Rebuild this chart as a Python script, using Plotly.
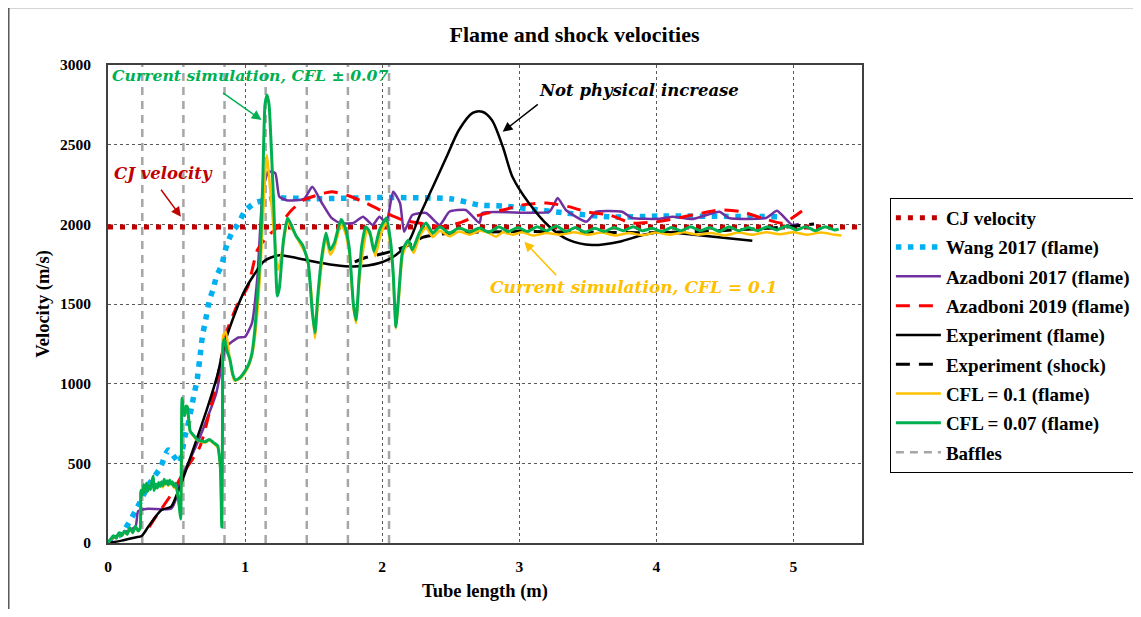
import plotly.graph_objects as go

# ---------------- data ----------------
cj_x = [0, 5.5]
cj_y = [1983, 1983]

wang_x = [0, 0.1, 0.2, 0.3, 0.38, 0.44, 0.49, 0.52, 0.56, 0.58, 0.61, 0.63, 0.65, 0.67, 0.69, 0.71,
          0.74, 0.77, 0.79, 0.83, 0.85, 0.875, 0.91, 0.94, 1.0, 1.07, 1.23, 1.5, 2.0, 2.5, 2.71,
          2.88, 3.34, 3.68, 4.02, 4.5, 4.89]
wang_y = [0, 60, 200, 370, 470, 584, 533, 502, 665, 728, 855, 941, 1023, 1161, 1305, 1389,
          1525, 1600, 1671, 1745, 1820, 1890, 1958, 1990, 2083, 2134, 2165, 2160, 2168, 2160, 2121,
          2115, 2071, 2046, 2052, 2050, 2048]

az17_x = [0, 0.05, 0.2, 0.22, 0.29, 0.46, 0.5, 0.52, 0.55, 0.67, 0.79, 0.86, 0.9, 0.95, 1.0, 1.05,
          1.09, 1.13, 1.17, 1.22, 1.25, 1.31, 1.43, 1.49, 1.56, 1.63, 1.69, 1.79, 1.86, 1.93, 1.98,
          2.03, 2.08, 2.13, 2.16, 2.22, 2.32, 2.42, 2.49, 2.61, 2.71, 2.73, 3.22, 3.28, 3.34, 3.49,
          3.56, 3.75, 3.82, 4.02, 4.12, 4.26, 4.46, 4.53, 4.8, 4.88, 4.99, 5.04]
az17_y = [0, 40, 102, 200, 215, 215, 290, 395, 440, 665, 941, 1232, 1260, 1290, 1295, 1380,
          1671, 2215, 2330, 2322, 2173, 2150, 2160, 2236, 2134, 2040, 2008, 2008, 2048, 1996, 2048,
          2008, 2205, 2134, 1954, 2058, 2071, 1996, 2079, 2090, 2008, 2071, 2079, 2165, 2090, 2017,
          2079, 2079, 2040, 2035, 2048, 2033, 2079, 2040, 2040, 2085, 1996, 2002]

az19_x = [0.3, 0.35, 0.45, 0.55, 0.67, 0.79, 0.87, 0.95, 1.02, 1.09, 1.16, 1.24, 1.34, 1.43, 1.53,
          1.63, 1.74, 1.88, 2.03, 2.15, 2.27, 2.42, 2.56, 2.71, 2.88, 3.02, 3.2, 3.36, 3.49, 3.66,
          3.82, 4.05, 4.26, 4.46, 4.62, 4.77, 4.92, 5.08]
az19_y = [100, 165, 290, 440, 604, 1004, 1337, 1506, 1608, 1839, 1922, 1985, 2090, 2153, 2184,
          2205, 2184, 2134, 2071, 2027, 2008, 1985, 2008, 2058, 2090, 2121, 2134, 2111, 2079, 2058,
          2008, 2022, 2058, 2090, 2079, 2040, 2008, 2095]

expf_x = [0, 0.1, 0.2, 0.245, 0.3, 0.39, 0.46, 0.5, 0.52, 0.62, 0.72, 0.8, 0.85, 0.93, 1.0, 1.07,
          1.14, 1.24, 1.34, 1.48, 1.65, 1.79, 1.98, 2.1, 2.2, 2.27, 2.37, 2.47, 2.56, 2.66, 2.73,
          2.8, 2.88, 2.95, 3.07, 3.22, 3.36, 3.53, 3.73, 3.9, 4.05, 4.17, 4.7]
expf_y = [0, 15, 35, 44, 110, 207, 228, 300, 340, 584, 835, 1060, 1250, 1450, 1590, 1690,
          1770, 1805, 1795, 1770, 1745, 1735, 1757, 1807, 1902, 2048, 2236, 2424, 2592, 2699, 2707,
          2655, 2487, 2299, 2134, 1985, 1902, 1870, 1891, 1933, 1954, 1944, 1897]

exps_x = [1.8, 1.87, 2.0, 2.1, 2.19, 2.3, 2.5, 3.0, 3.5, 4.0, 4.5, 4.94, 5.15]
exps_y = [1765, 1789, 1815, 1839, 1870, 1920, 1945, 1955, 1950, 1948, 1962, 1983, 2002]

g_x = [0, 0.02, 0.04, 0.06, 0.08, 0.10, 0.12, 0.14, 0.16, 0.18, 0.20, 0.22, 0.235, 0.24, 0.25,
       0.26, 0.27, 0.28, 0.29, 0.30, 0.31, 0.32, 0.33, 0.335, 0.35, 0.36, 0.37, 0.38, 0.39, 0.40,
       0.41, 0.42, 0.43, 0.44, 0.45, 0.46, 0.47, 0.48, 0.49, 0.50, 0.52, 0.53, 0.535, 0.54, 0.55,
       0.56, 0.57, 0.58, 0.59, 0.60, 0.62, 0.65, 0.68, 0.71, 0.74, 0.77, 0.80, 0.81, 0.82, 0.83,
       0.835, 0.84, 0.85, 0.87, 0.89, 0.91, 0.93, 0.96, 1.00, 1.03, 1.05, 1.07, 1.09, 1.11, 1.13,
       1.145, 1.16, 1.175, 1.19, 1.21, 1.235, 1.25, 1.28, 1.31, 1.34, 1.37, 1.42, 1.46, 1.49, 1.51,
       1.53, 1.56, 1.59, 1.62, 1.65, 1.70, 1.73, 1.76, 1.79, 1.81, 1.83, 1.85, 1.88, 1.91, 1.94,
       1.98, 2.03, 2.06, 2.08, 2.10, 2.12, 2.15, 2.19, 2.22, 2.27, 2.32, 2.37, 2.42, 2.49, 2.56,
       2.64, 2.71, 2.78, 2.85, 2.92, 2.99, 3.06, 3.13, 3.20, 3.27, 3.34, 3.41, 3.48, 3.55, 3.62,
       3.69, 3.76, 3.83, 3.90, 3.97, 4.04, 4.11, 4.18, 4.25, 4.32, 4.39, 4.46, 4.53, 4.60, 4.67,
       4.74, 4.81, 4.88, 4.95, 5.02, 5.09, 5.16, 5.23, 5.30, 5.33]
g_y = [0, 25, 45, 30, 65, 45, 75, 55, 95, 65, 105, 75, 95, 330, 300,
       365, 315, 375, 325, 360, 335, 385, 420, 330, 370, 345, 380, 355, 385, 360,
       400, 370, 390, 365, 395, 370, 385, 355, 375, 350, 230, 150, 500, 910, 840,
       800, 860, 850, 760, 700, 680, 650, 640, 636, 650, 630, 610, 560, 470, 100,
       700, 1250, 1280, 1200, 1150, 1060, 1023, 1036, 1080, 1130, 1190, 1330, 1550, 1800, 2300,
       2750, 2812, 2750, 2500, 2100, 1550, 1600, 1902, 2040, 1990, 1930, 1870, 1760, 1450, 1320,
       1550, 1800, 1945, 1840, 1880, 2030, 1980, 1850, 1500, 1400, 1650, 1860, 1985, 1950, 1830,
       1964, 2040, 1900, 1700, 1358, 1550, 1840, 1900, 1840, 1945, 2008, 1945, 1985, 1945, 1977,
       1954, 1977, 1950, 1985, 1955, 1980, 1955, 1985, 1960, 1990, 1955, 1980, 1950, 1975, 1955,
       1980, 1960, 1985, 1960, 1975, 1955, 1980, 1960, 1985, 1960, 1980, 1955, 1985, 1960, 1980,
       1960, 1985, 1965, 1990, 1965, 1985, 1960, 1985, 1965, 1970]

o_x = [0, 0.02, 0.04, 0.06, 0.08, 0.10, 0.12, 0.14, 0.16, 0.18, 0.20, 0.22, 0.235, 0.24, 0.26,
       0.28, 0.30, 0.32, 0.34, 0.36, 0.38, 0.40, 0.42, 0.44, 0.46, 0.48, 0.50, 0.52, 0.53, 0.535,
       0.54, 0.56, 0.58, 0.60, 0.62, 0.65, 0.68, 0.71, 0.74, 0.77, 0.80, 0.82, 0.83, 0.835, 0.84,
       0.86, 0.89, 0.92, 0.96, 1.00, 1.03, 1.06, 1.09, 1.12, 1.145, 1.16, 1.18, 1.21, 1.24, 1.27,
       1.31, 1.35, 1.40, 1.45, 1.48, 1.51, 1.53, 1.56, 1.59, 1.62, 1.65, 1.70, 1.73, 1.76, 1.79,
       1.81, 1.83, 1.86, 1.89, 1.92, 1.95, 1.99, 2.03, 2.06, 2.08, 2.10, 2.12, 2.15, 2.19, 2.23,
       2.27, 2.32, 2.37, 2.42, 2.49, 2.56, 2.64, 2.71, 2.78, 2.83, 2.88, 2.95, 3.02, 3.10, 3.20,
       3.30, 3.40, 3.50, 3.60, 3.70, 3.80, 3.90, 4.00, 4.10, 4.20, 4.30, 4.40, 4.50, 4.60, 4.70,
       4.80, 4.90, 5.00, 5.10, 5.20, 5.30, 5.35]
o_y = [0, 20, 40, 30, 60, 45, 70, 55, 90, 65, 100, 75, 90, 320, 355,
       360, 350, 375, 340, 355, 365, 350, 385, 360, 375, 350, 340, 225, 160, 480,
       890, 810, 860, 700, 675, 645, 635, 630, 645, 625, 600, 465, 120, 700, 1300,
       1326, 1140, 1020, 1030, 1070, 1120, 1220, 1450, 1850, 2300, 2435, 2250, 1950, 1713, 1830,
       2010, 1960, 1880, 1800, 1600, 1285, 1500, 1760, 1920, 1810, 1850, 2000, 1950, 1820, 1480,
       1380, 1620, 1830, 1960, 1920, 1800, 1940, 2010, 1870, 1680, 1345, 1520, 1810, 1880, 1820,
       1920, 1980, 1920, 1960, 1925, 1955, 1935, 1960, 1945, 1922, 1950, 1935, 1950, 1930, 1945,
       1935, 1950, 1935, 1948, 1930, 1945, 1932, 1948, 1935, 1950, 1935, 1945, 1930, 1948, 1935,
       1950, 1938, 1950, 1935, 1948, 1935, 1930]

baffle_x = [0.25, 0.55, 0.85, 1.15, 1.45, 1.75, 2.05]
baffle_top = 3000

x_ticks = [0, 1, 2, 3, 4, 5]
y_ticks = [0, 500, 1000, 1500, 2000, 2500, 3000]

# ---------------- figure ----------------
SERIF = "Liberation Serif, Times New Roman, serif"
MATH = "DejaVu Serif, serif"

fig = go.Figure()

bx, by = [], []
for b in baffle_x:
    bx += [b, b, None]
    by += [0, baffle_top, None]


def add_line(x, y, name, rank, **line):
    fig.add_trace(go.Scatter(x=x, y=y, mode="lines", name=name, legendrank=rank,
                             legendgroup=name, line=line))


add_line(bx, by, "Baffles", 9, color="#A6A6A6", width=2.5, dash="8px,6px")
add_line(cj_x, cj_y, "CJ velocity", 1, color="#C00000", width=5, dash="5px,7px")
add_line(wang_x, wang_y, "Wang 2017 (flame)", 2, color="#00B0F0", width=5.5, dash="5.5px,6.5px",
         shape="spline", smoothing=0.6)
add_line(az17_x, az17_y, "Azadboni 2017 (flame)", 3, color="#7030A0", width=2.5,
         shape="spline", smoothing=0.5)
add_line(az19_x, az19_y, "Azadboni 2019 (flame)", 4, color="#FF0000", width=3, dash="14px,9px",
         shape="spline", smoothing=0.6)
add_line(expf_x, expf_y, "Experiment (flame)", 5, color="#000000", width=2.5,
         shape="spline", smoothing=0.8)
add_line(exps_x, exps_y, "Experiment (shock)", 6, color="#000000", width=3, dash="14px,9px",
         shape="spline", smoothing=0.6)
add_line(o_x, o_y, "CFL = 0.1 (flame)", 7, color="#FFC000", width=2.5, shape="spline", smoothing=0.5)
add_line(g_x, g_y, "CFL = 0.07 (flame)", 8, color="#00B050", width=3, shape="spline", smoothing=0.5)


# text annotations
def txt(x, y, s, color, size=16.5):
    fig.add_annotation(x=x, y=y, xref="x", yref="y", text=s, showarrow=False,
                       font=dict(family=MATH, size=size, color=color, weight="bold", style="italic"),
                       xanchor="center", yanchor="middle")


def arrow(hx, hy, tx, ty, color):
    fig.add_annotation(x=hx, y=hy, ax=tx, ay=ty, xref="x", yref="y", axref="x", ayref="y",
                       text="", showarrow=True, arrowhead=2, arrowsize=1.3, arrowwidth=1.5,
                       arrowcolor=color)


txt(1.034, 2931, "Current simulation, CFL ± 0.07", "#00B050", size=15.7)
arrow(1.12, 2655, 0.828, 2832, "#00B050")
txt(0.408, 2322, "CJ velocity", "#C00000")
arrow(0.532, 2048, 0.379, 2226, "#C00000")
txt(3.875, 2843, "Not physical increase", "#000000")
arrow(2.879, 2581, 3.146, 2760, "#000000")
txt(3.838, 1607, "Current simulation, CFL = 0.1", "#FFC000", size=17)
arrow(3.037, 1891, 3.28, 1671, "#FFC000")

# outer frame
fig.add_shape(type="rect", xref="paper", yref="paper", x0=-0.1316, x1=1.6, y0=-0.6, y1=1.1203,
              line=dict(color="#595959", width=1.5), fillcolor="rgba(0,0,0,0)", layer="below")

fig.update_layout(
    width=1133, height=601,
    margin=dict(l=100, r=279, t=57, b=66, autoexpand=False),
    paper_bgcolor="white", plot_bgcolor="white",
    title=dict(text="<b>Flame and shock velocities</b>", x=0.5, xref="container", y=1 - 26 / 601,
               yref="container", xanchor="center", yanchor="middle",
               font=dict(family=SERIF, size=22, color="black")),
    font=dict(family=SERIF, size=15, color="black"),
    legend=dict(x=1.037, y=0.722, xanchor="left", yanchor="top", bordercolor="black", borderwidth=1,
                bgcolor="white", font=dict(family=SERIF, size=19, color="black", weight="bold"),
                itemwidth=45, tracegroupgap=1.6, traceorder="grouped"),
    showlegend=True,
)
fig.update_xaxes(range=[0, 5.5], tickvals=x_ticks, ticktext=[f"<b>{v}</b>" for v in x_ticks],
                 showgrid=True, gridcolor="#595959", griddash="dot", gridwidth=1,
                 showline=True, linecolor="#404040", linewidth=2, mirror=True, zeroline=False,
                 ticks="", ticklabelstandoff=8,
                 title=dict(text="<b>Tube length (m)</b>", font=dict(family=SERIF, size=18.5), standoff=10),
                 tickfont=dict(family=SERIF, size=15.5))
fig.update_yaxes(range=[0, 3000], tickvals=y_ticks, ticktext=[f"<b>{v}</b>" for v in y_ticks],
                 showgrid=True, gridcolor="#595959", griddash="dot", gridwidth=1,
                 showline=True, linecolor="#404040", linewidth=2, mirror=True, zeroline=False,
                 ticks="", ticklabelstandoff=12,
                 title=dict(text="<b>Velocity (m/s)</b>", font=dict(family=SERIF, size=18.5), standoff=5),
                 tickfont=dict(family=SERIF, size=15.5))

fig.write_html("out.html")
